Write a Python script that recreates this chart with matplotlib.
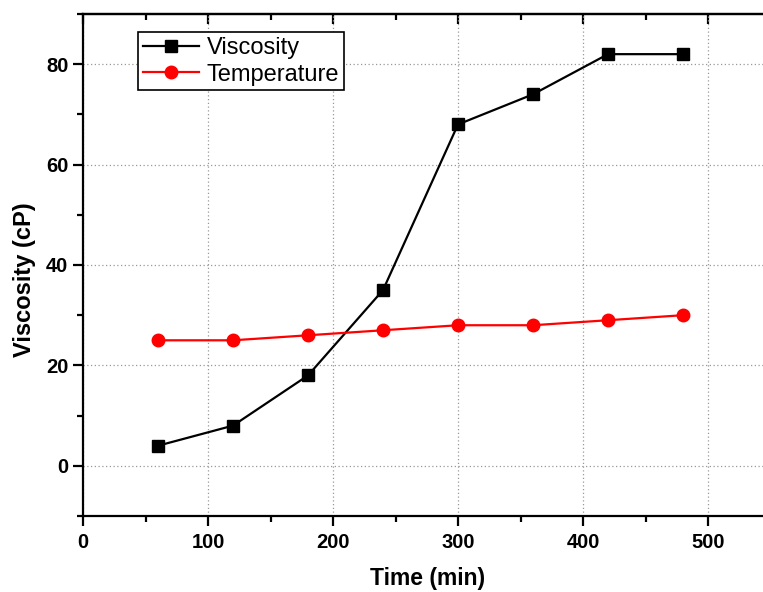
import matplotlib.pyplot as plt
from matplotlib.ticker import MultipleLocator

plt.rcParams['font.family'] = ['Liberation Sans', 'DejaVu Sans']

# Viscosity and temperature readings over time
time_min = [60, 120, 180, 240, 300, 360, 420, 480]
viscosity = [4, 8, 18, 35, 68, 74, 82, 82]
temperature = [25, 25, 26, 27, 28, 28, 29, 30]

W, H = 763, 592
fig = plt.figure(figsize=(W / 100, H / 100), dpi=100)
# the frame runs slightly past the right edge of the canvas
ax = fig.add_axes([83 / W, 76 / H, 690 / W, 502 / H])

ax.plot(time_min, viscosity, color='black', lw=1.6, marker='s', ms=8.5,
        label='Viscosity', zorder=3)
ax.plot(time_min, temperature, color='red', lw=1.6, marker='o', ms=9,
        label='Temperature', zorder=3)

ax.set_xlim(0, 552)
ax.set_ylim(-10, 90)
ax.xaxis.set_major_locator(MultipleLocator(100))
ax.xaxis.set_minor_locator(MultipleLocator(50))
ax.yaxis.set_major_locator(MultipleLocator(20))
ax.yaxis.set_minor_locator(MultipleLocator(10))

ax.grid(True, which='major', color='#999999', linestyle=(0, (1, 2)), lw=0.9)

for side in ['left', 'bottom', 'top']:
    ax.spines[side].set_linewidth(1.6)
ax.spines['right'].set_visible(False)

ax.tick_params(which='major', direction='out', length=7, width=1.6, labelsize=14.5)
ax.tick_params(axis='x', which='major', pad=5)
ax.tick_params(which='minor', direction='out', length=4, width=1.6)
for lab in ax.get_xticklabels() + ax.get_yticklabels():
    lab.set_fontweight('bold')

# inward ticks along the top edge
top = ax.secondary_xaxis('top')
top.xaxis.set_major_locator(MultipleLocator(100))
top.xaxis.set_minor_locator(MultipleLocator(50))
top.tick_params(which='major', direction='in', length=7, width=1.6, labeltop=False)
top.tick_params(which='minor', direction='in', length=4, width=1.6)
top.spines['top'].set_linewidth(1.6)

ax.set_xlabel('Time (min)', fontsize=16.5, fontweight='bold', labelpad=11)
ax.set_ylabel('Viscosity (cP)', fontsize=17, fontweight='bold')
ax.yaxis.set_label_coords(-47 / 690, 0.47)

leg = ax.legend(loc='upper left', bbox_to_anchor=(55 / 690, 0.964), fontsize=17,
                frameon=True, fancybox=False, edgecolor='black', framealpha=1,
                handlelength=2.4, borderpad=0.2, labelspacing=0.2,
                handletextpad=0.3, borderaxespad=0)
leg.get_frame().set_linewidth(1.2)

fig.savefig('out.png', dpi=100)
